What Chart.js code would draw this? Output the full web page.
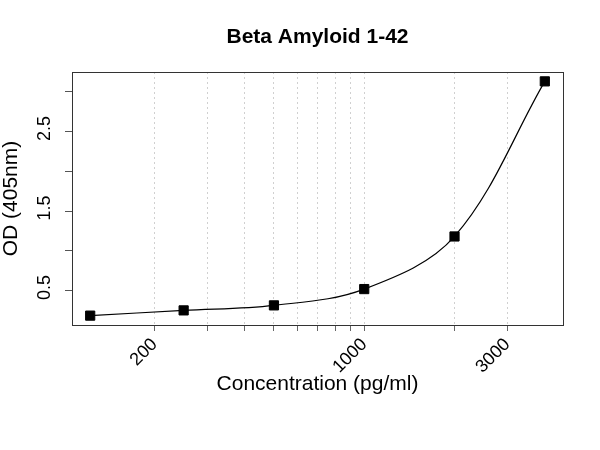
<!DOCTYPE html>
<html><head><meta charset="utf-8">
<script src="https://cdn.jsdelivr.net/npm/chart.js@4/dist/chart.umd.min.js"></script>
<style>html,body{margin:0;padding:0;background:#fff}#wrap{width:600px;height:450px}</style>
</head><body><div id="wrap"><canvas id="c" width="600" height="450"></canvas></div>
<script>
// ---- data ----
const concentrations = [122, 250, 500, 1000, 2000, 4000];      // pg/ml
const odValues       = [0.185, 0.251, 0.314, 0.519, 1.181, 3.132]; // OD 405nm
const xGridTicks  = [200, 300, 400, 500, 600, 700, 800, 900, 1000, 2000, 3000];
const xTickLabels = [200, 1000, 3000];
const yTicks      = [0.5, 1, 1.5, 2, 2.5, 3];
const yTickLabels = [0.5, 1.5, 2.5];
const chartTitle  = 'Beta Amyloid 1-42';
const xTitle      = 'Concentration (pg/ml)';
const yTitle      = 'OD (405nm)';

// axis ranges padded 4% like R
const pad = 0.04;
const lx = concentrations.map(v => Math.log10(v));
const lxMin = Math.min(...lx), lxMax = Math.max(...lx);
const xMin = Math.pow(10, lxMin - pad * (lxMax - lxMin));
const xMax = Math.pow(10, lxMax + pad * (lxMax - lxMin));
const yLo = Math.min(...odValues), yHi = Math.max(...odValues);
const yMin = yLo - pad * (yHi - yLo), yMax = yHi + pad * (yHi - yLo);

const FONT = "'Liberation Sans', Arial, sans-serif";
const points = concentrations.map((c, i) => ({x: c, y: odValues[i]}));

const framePlugin = {
  id: 'frame',
  afterDraw(chart) {
    const a = chart.chartArea, ctx = chart.ctx;
    ctx.save();
    ctx.strokeStyle = '#333';
    ctx.lineWidth = 1;
    ctx.strokeRect(Math.round(a.left) + 0.5, Math.round(a.top) + 0.5,
                   Math.round(a.right - a.left), Math.round(a.bottom - a.top));
    ctx.restore();
  }
};

new Chart(document.getElementById('c'), {
  type: 'scatter',
  data: {
    datasets: [{
      data: points,
      showLine: true,
      tension: 0.35,
      borderColor: '#000',
      borderWidth: 1.2,
      pointStyle: 'rect',
      pointRadius: 6.5,
      pointHoverRadius: 6.5,
      pointBackgroundColor: '#000',
      pointBorderColor: '#000',
      pointBorderWidth: 1
    }]
  },
  options: {
    responsive: false,
    devicePixelRatio: 1,
    animation: false,
    events: [],
    layout: { padding: { left: 0, right: 37, top: 0, bottom: 0 } },
    plugins: {
      legend: { display: false },
      tooltip: { enabled: false },
      title: {
        display: true,
        text: chartTitle,
        fullSize: false,
        color: '#000',
        font: { family: FONT, size: 21, weight: 'bold', lineHeight: 1.2 },
        padding: { top: 24.4, bottom: 22.4 }
      }
    },
    scales: {
      x: {
        type: 'logarithmic',
        min: xMin,
        max: xMax,
        afterBuildTicks: s => { s.ticks = xGridTicks.map(v => ({ value: v })); },
        afterFit: s => { s.height = 125; },
        ticks: {
          autoSkip: false,
          minRotation: 45,
          maxRotation: 45,
          padding: 3,
          labelOffset: 0,
          color: '#000',
          font: { family: FONT, size: 18 },
          callback: v => xTickLabels.includes(v) ? String(v) : ''
        },
        grid: {
          color: '#d0d0d0',
          lineWidth: 1,
          drawOnChartArea: true,
          tickLength: 6,
          tickColor: '#666'
        },
        border: { color: '#444', width: 1, dash: [2, 3] },
        title: {
          display: true,
          text: xTitle,
          color: '#000',
          font: { family: FONT, size: 21, lineHeight: 1.2 },
          padding: { top: 0, bottom: 52.9 }
        }
      },
      y: {
        type: 'linear',
        min: yMin,
        max: yMax,
        afterBuildTicks: s => { s.ticks = yTicks.map(v => ({ value: v })); },
        afterFit: s => { s.width = 72; },
        ticks: {
          autoSkip: false,
          minRotation: 90,
          maxRotation: 90,
          crossAlign: 'center',
          padding: 7.5,
          labelOffset: -3,
          color: '#000',
          font: { family: FONT, size: 18 },
          callback: v => yTickLabels.includes(v) ? v.toFixed(1) : ''
        },
        grid: {
          drawOnChartArea: false,
          tickLength: 7,
          tickColor: '#555'
        },
        border: { color: '#444', width: 1 },
        title: {
          display: true,
          text: yTitle,
          color: '#000',
          font: { family: FONT, size: 21, lineHeight: 1.1 },
          padding: { top: 0, bottom: 0 }
        }
      }
    }
  },
  plugins: [framePlugin]
});
</script>
</body></html>
